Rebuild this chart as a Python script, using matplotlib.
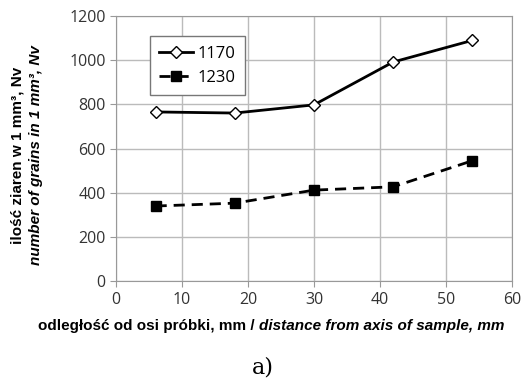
import numpy as np
import matplotlib.pyplot as plt

# dane
odleglosc = [6, 18, 30, 42, 54]
nv_1170 = [766, 761, 798, 992, 1090]
nv_1230 = [340, 353, 412, 427, 545]
etykiety = ['1170', '1230']

fig = plt.figure(figsize=(5.25, 3.83), dpi=100)
ax = fig.add_axes([0.221, 0.266, 0.754, 0.692])

ax.plot(odleglosc, nv_1170, color='black', lw=2, marker='D', ms=6.5,
        mfc='white', mec='black', mew=1.0, label=etykiety[0])
ax.plot(odleglosc, nv_1230, color='black', lw=2, ls=(0, (4, 2.5)), marker='s', ms=7.5,
        mfc='black', mec='black', label=etykiety[1])

ax.set_xlim(0, 60)
ax.set_ylim(0, 1200)
ax.set_xticks(np.arange(0, 61, 10))
ax.set_yticks(np.arange(0, 1201, 200))
ax.grid(True, color='#bbbbbb', lw=1)
ax.set_axisbelow(True)
for s in ax.spines.values():
    s.set_color('#999999')
ax.tick_params(length=4, color='#999999', labelsize=11.5, labelcolor='#333333')
for lab in ax.get_xticklabels() + ax.get_yticklabels():
    lab.set_family('Open Sans')

leg = ax.legend(loc='upper left', bbox_to_anchor=(0.065, 0.955), fancybox=False,
                edgecolor='#777777', framealpha=1, handlelength=2.0,
                prop={'family': 'Open Sans', 'size': 12}, labelspacing=0.5,
                borderpad=0.55, handletextpad=0.3)
leg.get_frame().set_linewidth(1)

# opis osi y - dwie linie
fig.text(0.033, 0.595, 'ilość ziaren w 1 mm³, Nv', rotation=90, ha='center', va='center',
         fontsize=11, fontweight='bold', family='Liberation Sans')
fig.text(0.069, 0.595, 'number of grains in 1 mm³, Nv', rotation=90, ha='center', va='center',
         fontsize=11, fontweight='bold', style='italic', family='Liberation Sans')

# opis osi x - czesc prosta i kursywa
t1 = fig.text(0.072, 0.148, 'odległość od osi próbki, mm / ', ha='left', va='center',
              fontsize=11, fontweight='bold', family='Liberation Sans')
fig.canvas.draw()
bb = t1.get_window_extent()
x2 = bb.x1 / fig.bbox.width
fig.text(x2, 0.148, 'distance from axis of sample, mm', ha='left', va='center',
         fontsize=11, fontweight='bold', style='italic', family='Liberation Sans')

fig.text(0.5, 0.04, 'a)', ha='center', va='center', fontsize=16, family='DejaVu Serif')

plt.savefig('out.png', dpi=100)
